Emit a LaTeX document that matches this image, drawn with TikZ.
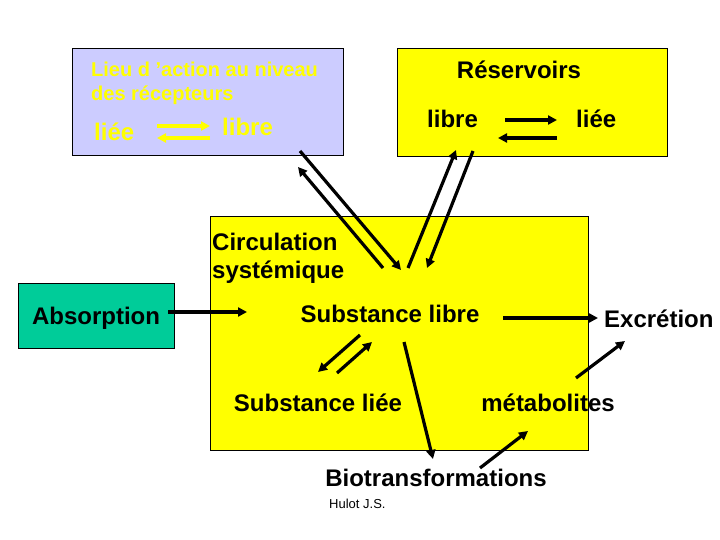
\documentclass[tikz,border=0pt]{standalone}
\usepackage{fontspec}
\setmainfont{Liberation Sans}
\usetikzlibrary{arrows.meta}
\definecolor{recblue}{RGB}{204,204,255}
\definecolor{ryellow}{RGB}{255,255,0}
\definecolor{absgreen}{RGB}{0,204,153}
\tikzset{
  box/.style={draw=black, line width=1pt, anchor=north west, inner sep=0pt},
  lbl/.style={font=\fontsize{24}{28}\selectfont\bfseries, inner sep=0pt, anchor=base west},
  clbl/.style={lbl, anchor=base},
  arr/.style={line width=3.2pt, -{Triangle[length=9pt,width=9pt]}},
  yarr/.style={arr, draw=ryellow, color=ryellow},
}
\begin{document}
\begin{tikzpicture}[x=1pt,y=-1pt]
\useasboundingbox (0,0) rectangle (720,540);
\fill[white] (0,0) rectangle (720,540);

% boxes
\node[box, fill=recblue, minimum width=271pt, minimum height=107pt] (rec) at (72,48) {};
\node[box, fill=ryellow, minimum width=270pt, minimum height=108pt] (res) at (397,48) {};
\node[box, fill=ryellow, minimum width=378pt, minimum height=234pt] (circ) at (210,216) {};
\node[box, fill=absgreen, minimum width=156pt, minimum height=65pt] (absbox) at (18,283) {};

% texts in the receptor box
\node[lbl, font=\fontsize{20}{24}\selectfont\bfseries, text=ryellow] (lieu1) at (91,77) {Lieu d 'action au niveau};
\node[lbl, font=\fontsize{20}{24}\selectfont\bfseries, text=ryellow] (lieu2) at (91,101) {des récepteurs};
\node[lbl, text=ryellow] (recliee) at (94,141) {liée};
\node[lbl, text=ryellow] (reclibre) at (222,136) {libre};

% texts in the reservoir box
\node[clbl] (resv) at (519,79) {Réservoirs};
\node[lbl] (reslibre) at (427,128) {libre};
\node[lbl] (resliee) at (576,128) {liée};

% circulation texts
\node[lbl] (circ1) at (212,250) {Circulation};
\node[lbl] (circ2) at (212,278) {systémique};
\node[clbl] (abstxt) at (96,324) {Absorption};
\node[clbl] (sublibre) at (390,322) {Substance libre};
\node[lbl] (excr) at (604,327) {Excrétion};
\node[clbl] (subliee) at (318,411) {Substance liée};
\node[clbl] (metab) at (548,411) {métabolites};
\node[clbl] (biot) at (436,486) {Biotransformations};
\node[inner sep=0pt, anchor=base west, font=\fontsize{13}{15}\selectfont] (hulot) at (329,508) {Hulot J.S.};

% arrow end points
\coordinate (ra1) at (157,126);  \coordinate (ra2) at (210,126);
\coordinate (rb1) at (210,138);  \coordinate (rb2) at (157,138);
\coordinate (sa1) at (505,120);  \coordinate (sa2) at (557,120);
\coordinate (sb1) at (557,138);  \coordinate (sb2) at (498,138);
\coordinate (rc1) at (300,151);  \coordinate (rc2) at (401,270);
\coordinate (cr1) at (383,268);  \coordinate (cr2) at (298,167);
\coordinate (cs1) at (408,268);  \coordinate (cs2) at (456,150);
\coordinate (sc1) at (473,151);  \coordinate (sc2) at (427,268);
\coordinate (ab1) at (168,312);  \coordinate (ab2) at (247,312);
\coordinate (ex1) at (503,318);  \coordinate (ex2) at (598,318);
\coordinate (la1) at (360,335);  \coordinate (la2) at (318,372);
\coordinate (lb1) at (337,373);  \coordinate (lb2) at (372,342);
\coordinate (bt1) at (404,342);  \coordinate (bt2) at (433,459);
\coordinate (bm1) at (480,468);  \coordinate (bm2) at (528,431);
\coordinate (me1) at (576,378);  \coordinate (me2) at (625,341);

% receptor equilibrium (yellow)
\draw[yarr] (ra1) -- (ra2);
\draw[yarr] (rb1) -- (rb2);
% reservoir equilibrium
\draw[arr] (sa1) -- (sa2);
\draw[arr] (sb1) -- (sb2);
% exchanges with circulation
\draw[arr] (rc1) -- (rc2);
\draw[arr] (cr1) -- (cr2);
\draw[arr] (cs1) -- (cs2);
\draw[arr] (sc1) -- (sc2);
% absorption / excretion
\draw[arr] (ab1) -- (ab2);
\draw[arr] (ex1) -- (ex2);
% bound / free
\draw[arr] (la1) -- (la2);
\draw[arr] (lb1) -- (lb2);
% biotransformations
\draw[arr] (bt1) -- (bt2);
\draw[arr] (bm1) -- (bm2);
\draw[arr] (me1) -- (me2);
\end{tikzpicture}
\end{document}
